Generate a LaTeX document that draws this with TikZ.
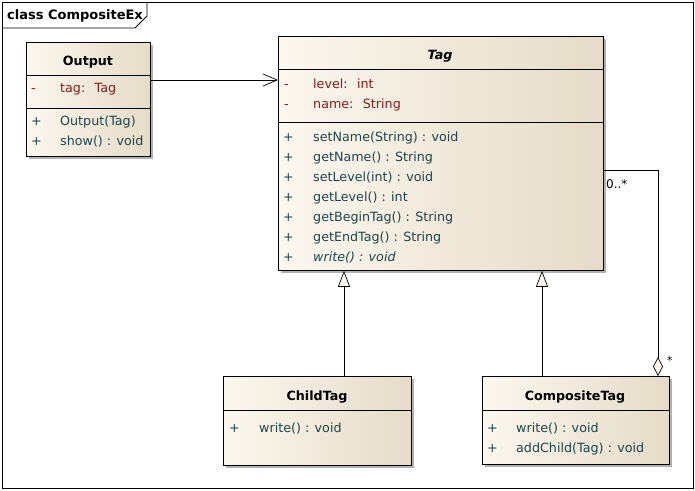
\documentclass[tikz,border=0pt]{standalone}
\usepackage{fontspec}
\setmainfont{DejaVu Sans}
\usetikzlibrary{arrows.meta,shadows}
\definecolor{attr}{RGB}{140,25,25}
\definecolor{meth}{RGB}{30,70,75}
\definecolor{boxl}{RGB}{252,248,239}
\definecolor{boxr}{RGB}{229,219,200}
\begin{document}
\begin{tikzpicture}[x=1pt,y=-1pt,
  classbox/.style={draw=black, line width=0.8pt, left color=boxl, right color=boxr,
    drop shadow={shadow xshift=3pt,shadow yshift=-3pt,fill=black,opacity=0.3},
    anchor=north west, inner sep=0pt},
  divider/.style={line width=0.8pt},
  base/.style={anchor=base west, inner sep=0pt, font=\fontsize{12.7}{15}\selectfont},
  attrtxt/.style={base, text=attr},
  methtxt/.style={base, text=meth},
  title/.style={anchor=base, inner sep=0pt, font=\fontsize{12.7}{15}\selectfont\bfseries},
  conn/.style={line width=0.7pt},
  gen/.style={conn, -{Triangle[open,length=16pt,width=12pt,fill=boxl]}},
  assoc/.style={conn, -{Straight Barb[length=14pt,width=12pt]}},
  aggr/.style={conn, {Diamond[open,length=19pt,width=10pt,fill=boxl]}-}
]
\useasboundingbox (0,0) rectangle (695,490);
% frame
\draw[line width=0.8pt] (2,2) rectangle (693,488);
\draw[line width=0.8pt] (2,28) -- (135,28) -- (147,16) -- (147,2);
\node[anchor=base west, inner sep=0pt, font=\fontsize{13}{16}\selectfont\bfseries] (frametitle) at (7,19) {class CompositeEx};

% Output class
\node[classbox, minimum width=124pt, minimum height=114pt] (output) at (26,42) {};
\draw[divider] (26,75) -- (150,75);
\draw[divider] (26,108) -- (150,108);
\node[title] (outputtitle) at (88,65) {Output};
\node[attrtxt] (o1a) at (31,92) {-};
\node[attrtxt] (o1b) at (60,92) {tag:~ Tag};
\node[methtxt] (o2a) at (31,125) {+};
\node[methtxt] (o2b) at (60,125) {Output(Tag)};
\node[methtxt] (o3a) at (31,145) {+};
\node[methtxt] (o3b) at (60,145) {show() : void};

% Tag class
\node[classbox, minimum width=325pt, minimum height=234pt] (tag) at (278,36) {};
\draw[divider] (278,69) -- (603,69);
\draw[divider] (278,122) -- (603,122);
\node[title, font=\fontsize{12.7}{15}\selectfont\bfseries\itshape] (tagtitle) at (440,59) {Tag};
\node[attrtxt] (t1a) at (284,88) {-};
\node[attrtxt] (t1b) at (313,88) {level:~ int};
\node[attrtxt] (t2a) at (284,108) {-};
\node[attrtxt] (t2b) at (313,108) {name:~ String};
\node[methtxt] (t3a) at (283,141) {+};
\node[methtxt] (t3b) at (313,141) {setName(String) : void};
\node[methtxt] (t4a) at (283,161) {+};
\node[methtxt] (t4b) at (313,161) {getName() : String};
\node[methtxt] (t5a) at (283,181) {+};
\node[methtxt] (t5b) at (313,181) {setLevel(int) : void};
\node[methtxt] (t6a) at (283,201) {+};
\node[methtxt] (t6b) at (313,201) {getLevel() : int};
\node[methtxt] (t7a) at (283,221) {+};
\node[methtxt] (t7b) at (313,221) {getBeginTag() : String};
\node[methtxt] (t8a) at (283,241) {+};
\node[methtxt] (t8b) at (313,241) {getEndTag() : String};
\node[methtxt] (t9a) at (283,261) {+};
\node[methtxt, font=\fontsize{12.7}{15}\selectfont\itshape] (t9b) at (313,261) {write() : void};

% ChildTag class
\node[classbox, minimum width=188pt, minimum height=89pt] (child) at (223,376) {};
\draw[divider] (223,410) -- (411,410);
\node[title] (childtitle) at (317,400) {ChildTag};
\node[methtxt] (c1a) at (229,432) {+};
\node[methtxt] (c1b) at (259,432) {write() : void};

% CompositeTag class
\node[classbox, minimum width=187pt, minimum height=88pt] (comp) at (482,376) {};
\draw[divider] (482,410) -- (669,410);
\node[title] (comptitle) at (575,400) {CompositeTag};
\node[methtxt] (p1a) at (487,432) {+};
\node[methtxt] (p1b) at (516,432) {write() : void};
\node[methtxt] (p2a) at (487,452) {+};
\node[methtxt] (p2b) at (516,452) {addChild(Tag) : void};

% connectors
\coordinate (assocy) at (0,80);
\draw[assoc] (output.east |- assocy) -- (tag.west |- assocy);
\coordinate (childx) at (344,0);
\draw[gen] (child.north -| childx) -- (tag.south -| childx);
\coordinate (compx) at (542,0);
\draw[gen] (comp.north -| compx) -- (tag.south -| compx);
\coordinate (aggx) at (658,0);
\coordinate (aggcorner) at (658,170);
\draw[aggr] (comp.north -| aggx) -- (aggcorner) -- (tag.east |- aggcorner);
\node[anchor=base west, inner sep=0pt, font=\fontsize{12}{14}\selectfont] (mult1) at (606,188) {0..*};
\node[anchor=base west, inner sep=0pt, font=\fontsize{11}{14}\selectfont] (mult2) at (667,364) {*};
\end{tikzpicture}
\end{document}
